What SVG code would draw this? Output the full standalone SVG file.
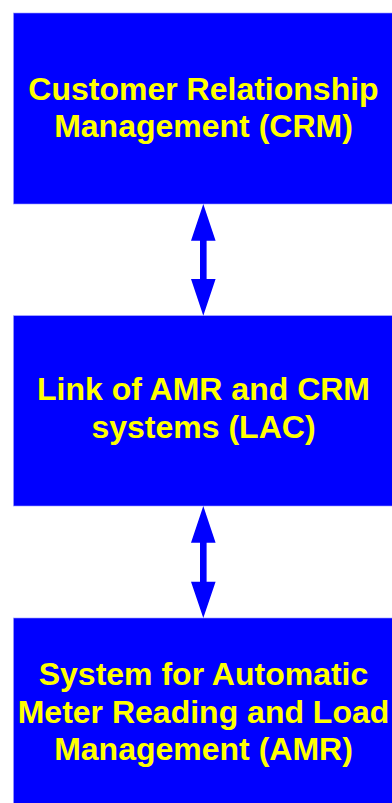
<svg xmlns="http://www.w3.org/2000/svg" width="392" height="803" viewBox="0 0 392 803">
<style>
.box{fill:#0000FF;stroke:#9999ff;stroke-width:0.6}
.lbl{font-family:"Liberation Sans",Arial,sans-serif;font-weight:bold;font-size:32px;fill:#FFFF00;text-anchor:middle}
.arr{fill:#0000FF}
</style>
<rect width="392" height="803" fill="#ffffff"/>
<g id="crm">
<rect class="box" x="13.5" y="13" width="390" height="191"/>
<text class="lbl" x="203.5" y="99.5">Customer Relationship</text>
<text class="lbl" x="203.5" y="137">Management (CRM)</text>
</g>
<g id="lac">
<rect class="box" x="13.5" y="315.7" width="390" height="190.3"/>
<text class="lbl" x="203.5" y="400">Link of AMR and CRM</text>
<text class="lbl" x="203.5" y="437.5">systems (LAC)</text>
</g>
<g id="amr">
<rect class="box" x="13.5" y="618" width="390" height="200"/>
<text class="lbl" x="203.5" y="685">System for Automatic</text>
<text class="lbl" x="203.5" y="722.5">Meter Reading and Load</text>
<text class="lbl" x="203.5" y="760">Management (AMR)</text>
</g>
<g id="connectors">
<path class="arr" d="M203.3,204 L215.6,240.7 L206.6,240.7 L206.6,279 L215.6,279 L203.3,315.7 L191,279 L200,279 L200,240.7 L191,240.7 Z"/>
<path class="arr" d="M203.3,506 L215.6,542.7 L206.6,542.7 L206.6,581.7 L215.6,581.7 L203.3,618 L191,581.7 L200,581.7 L200,542.7 L191,542.7 Z"/>
</g>
</svg>
